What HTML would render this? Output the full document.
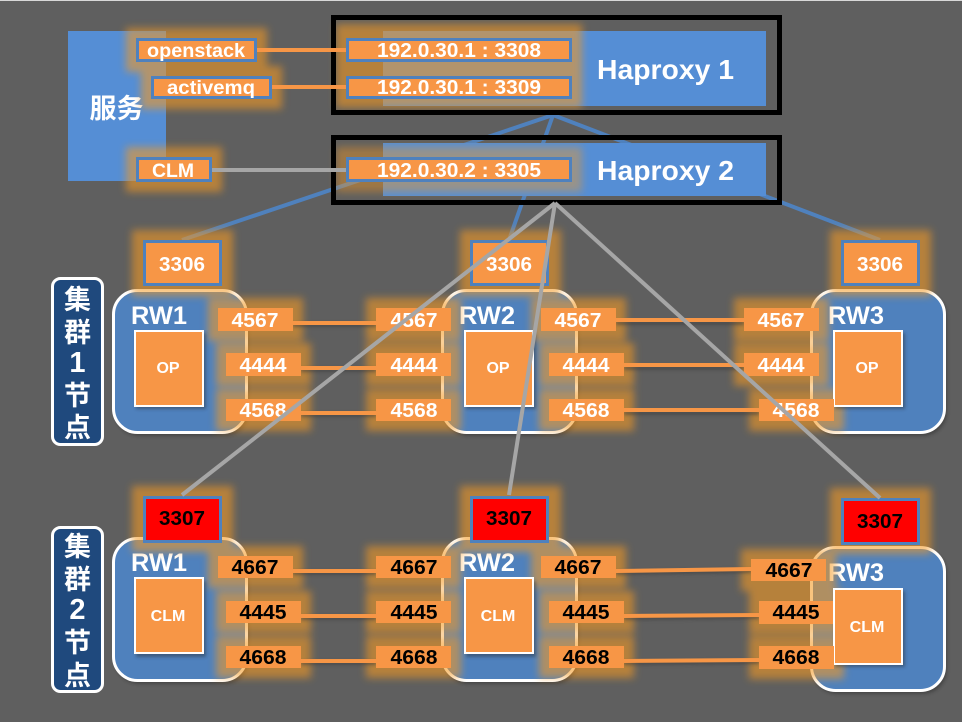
<!DOCTYPE html>
<html lang="zh">
<head>
<meta charset="utf-8">
<title>Haproxy</title>
<style>
html,body{margin:0;padding:0;background:#5f5f5f;width:962px;height:722px;overflow:hidden}
svg{display:block}
text{font-family:"Liberation Sans","Noto Sans CJK SC",sans-serif;font-weight:bold;text-anchor:middle;fill:#fff}
.k text,text.k{fill:#000}
.p{fill:#f79646}
.b{fill:#f79646;stroke:#4f81bd;stroke-width:3}
.r{fill:#f00;stroke:#4f81bd;stroke-width:3}
.rw{fill:#4f81bd;stroke:#fff;stroke-width:3}
.in{fill:#f79646;stroke:#fff;stroke-width:2}
.g rect{fill:#f59a20}
.ol{stroke:#f79646;stroke-width:4;fill:none}
.sh{stroke:#3a3a3a;stroke-width:4;fill:none;opacity:.55}
.bl{stroke:#4f81bd;stroke-width:4;fill:none}
.gr{stroke:#a6a6a6;stroke-width:4;fill:none}
.fr{fill:none;stroke:#000;stroke-width:5}
.tag{fill:#1f497d;stroke:#fff;stroke-width:3}
</style>
</head>
<body>
<svg width="962" height="722" viewBox="0 0 962 722" xmlns="http://www.w3.org/2000/svg">
<defs>
<filter id="blur" filterUnits="userSpaceOnUse" x="0" y="0" width="962" height="722"><feMorphology operator="dilate" radius="2"/><feGaussianBlur stdDeviation="4"/></filter>
<filter id="sb" x="-10%" y="-10%" width="120%" height="120%"><feGaussianBlur stdDeviation="1.5"/></filter>
</defs>
<rect width="962" height="722" fill="#5f5f5f"/>
<rect width="962" height="1" fill="#d8d8d8"/>

<!-- blue connectors -->
<g class="bl">
<line x1="553" y1="115" x2="182" y2="240"/>
<line x1="553" y1="115" x2="509" y2="240"/>
<line x1="553" y1="115" x2="880" y2="240"/>
</g>

<!-- service + haproxy panels -->
<rect x="68" y="31" width="98" height="150" fill="#558ed5"/>
<rect x="383" y="31" width="383" height="75" fill="#558ed5"/>
<rect x="383" y="143" width="383" height="53" fill="#558ed5"/>
<text x="116.500" y="118" font-size="27">服务</text>
<text x="665.500" y="79" font-size="28" textLength="137" lengthAdjust="spacingAndGlyphs">Haproxy 1</text>
<text x="665.500" y="180" font-size="28" textLength="137" lengthAdjust="spacingAndGlyphs">Haproxy 2</text>

<!-- top glows -->
<g class="g" filter="url(#blur)" opacity=".58">
<rect x="128" y="30" width="137" height="40"/>
<rect x="143" y="68" width="137" height="39"/>
<rect x="128" y="149" width="92" height="41"/>
<rect x="338" y="26" width="242" height="80"/>
</g>
<g class="g" filter="url(#blur)" opacity=".42">
<rect x="338" y="149" width="242" height="41"/>
</g>

<!-- frames -->
<rect class="fr" x="333.500" y="17.500" width="446" height="95"/>
<rect class="fr" x="333.500" y="137.500" width="446" height="65"/>

<!-- top links -->
<line class="ol" x1="257" y1="50" x2="346" y2="50"/>
<line class="ol" x1="272" y1="87" x2="346" y2="87"/>
<line class="gr" x1="212" y1="170" x2="346" y2="170"/>

<!-- top boxes -->
<rect class="b" x="137.500" y="39.500" width="118" height="21"/>
<rect class="b" x="152.500" y="77.500" width="118" height="20"/>
<rect class="b" x="137.500" y="158.500" width="73" height="22"/>
<rect class="b" x="347.500" y="39.500" width="223" height="21"/>
<rect class="b" x="347.500" y="77.500" width="223" height="20"/>
<rect class="b" x="347.500" y="158.500" width="223" height="22"/>
<text x="196" y="57" font-size="19" textLength="98" lengthAdjust="spacingAndGlyphs">openstack</text>
<text x="211" y="94" font-size="19" textLength="88" lengthAdjust="spacingAndGlyphs">activemq</text>
<text x="173" y="177" font-size="19" textLength="42" lengthAdjust="spacingAndGlyphs">CLM</text>
<text x="459" y="57" font-size="20" textLength="164" lengthAdjust="spacingAndGlyphs">192.0.30.1 : 3308</text>
<text x="459" y="94" font-size="20" textLength="164" lengthAdjust="spacingAndGlyphs">192.0.30.1 : 3309</text>
<text x="459" y="177" font-size="20" textLength="164" lengthAdjust="spacingAndGlyphs">192.0.30.2 : 3305</text>

<!-- side tags -->
<rect class="tag" x="52.500" y="278.500" width="50" height="166" rx="8"/>
<rect class="tag" x="52.500" y="527.500" width="50" height="164" rx="8"/>
<g font-size="27">
<text x="77.500" y="309">集</text>
<text x="77.500" y="342">群</text>
<text x="77.500" y="372" font-size="29">1</text>
<text x="77.500" y="405">节</text>
<text x="77.500" y="437">点</text>
<text x="77.500" y="556">集</text>
<text x="77.500" y="589">群</text>
<text x="77.500" y="619" font-size="29">2</text>
<text x="77.500" y="652">节</text>
<text x="77.500" y="685">点</text>
</g>

<!-- RW panels -->
<g filter="url(#sb)" opacity=".4" fill="#222">
<rect x="115" y="293" width="134" height="143" rx="24"/>
<rect x="444" y="293" width="135" height="143" rx="24"/>
<rect x="813" y="293" width="134" height="143" rx="24"/>
<rect x="115" y="541" width="134" height="143" rx="24"/>
<rect x="444" y="541" width="135" height="143" rx="24"/>
<rect x="813" y="550" width="134" height="144" rx="24"/>
</g>
<rect class="rw" x="113.500" y="290.500" width="133" height="142" rx="24"/>
<rect class="rw" x="442.500" y="290.500" width="134" height="142" rx="24"/>
<rect class="rw" x="811.500" y="290.500" width="133" height="142" rx="24"/>
<rect class="rw" x="113.500" y="538.500" width="133" height="142" rx="24"/>
<rect class="rw" x="442.500" y="538.500" width="134" height="142" rx="24"/>
<rect class="rw" x="811.500" y="547.500" width="133" height="143" rx="24"/>
<g font-size="25">
<text x="159" y="324" textLength="56" lengthAdjust="spacingAndGlyphs">RW1</text>
<text x="487" y="324" textLength="56" lengthAdjust="spacingAndGlyphs">RW2</text>
<text x="856" y="324" textLength="56" lengthAdjust="spacingAndGlyphs">RW3</text>
<text x="159" y="571" textLength="56" lengthAdjust="spacingAndGlyphs">RW1</text>
<text x="487" y="571" textLength="56" lengthAdjust="spacingAndGlyphs">RW2</text>
<text x="856" y="581" textLength="56" lengthAdjust="spacingAndGlyphs">RW3</text>
</g>

<!-- cluster glows -->
<g class="g" filter="url(#blur)" opacity=".58">
<rect x="134" y="232" width="97" height="62"/>
<rect x="462" y="232" width="97" height="62"/>
<rect x="832" y="232" width="97" height="62"/>
<rect x="134" y="488" width="97" height="62"/>
<rect x="462" y="488" width="97" height="62"/>
<rect x="832" y="490" width="97" height="62"/>
<rect x="210" y="300" width="91" height="39"/><rect x="368" y="300" width="91" height="39"/>
<rect x="218" y="345" width="91" height="39"/><rect x="368" y="345" width="91" height="39"/>
<rect x="218" y="391" width="91" height="38"/><rect x="368" y="391" width="91" height="38"/>
<rect x="533" y="300" width="91" height="39"/><rect x="736" y="300" width="91" height="39"/>
<rect x="541" y="345" width="91" height="39"/><rect x="736" y="345" width="91" height="39"/>
<rect x="541" y="391" width="91" height="38"/><rect x="751" y="391" width="91" height="38"/>
<rect x="210" y="548" width="91" height="38"/><rect x="368" y="548" width="91" height="38"/>
<rect x="218" y="593" width="91" height="38"/><rect x="368" y="593" width="91" height="38"/>
<rect x="218" y="638" width="91" height="38"/><rect x="368" y="638" width="91" height="38"/>
<rect x="533" y="548" width="91" height="38"/><rect x="743" y="551" width="91" height="38"/>
<rect x="541" y="593" width="91" height="38"/><rect x="751" y="593" width="91" height="39"/>
<rect x="541" y="638" width="91" height="38"/><rect x="751" y="638" width="91" height="39"/>
</g>

<!-- inner boxes -->
<g filter="url(#sb)" opacity=".4" fill="#222">
<rect x="136" y="333" width="70" height="76"/><rect x="466" y="333" width="70" height="76"/><rect x="835" y="333" width="70" height="76"/>
<rect x="136" y="581" width="70" height="76"/><rect x="466" y="581" width="70" height="76"/><rect x="835" y="591" width="70" height="76"/>
</g>
<rect class="in" x="135" y="331" width="68" height="75"/>
<rect class="in" x="465" y="331" width="68" height="75"/>
<rect class="in" x="834" y="331" width="68" height="75"/>
<rect class="in" x="135" y="578" width="68" height="75"/>
<rect class="in" x="465" y="578" width="68" height="75"/>
<rect class="in" x="834" y="589" width="68" height="75"/>
<g font-size="16">
<text x="168" y="373">OP</text><text x="498" y="373">OP</text><text x="867" y="373">OP</text>
<text x="168" y="621">CLM</text><text x="498" y="621">CLM</text><text x="867" y="632">CLM</text>
</g>

<!-- port link shadows -->
<g class="sh" filter="url(#sb)">
<path d="M293 325H376M301 370H376M301 415H376M616 323H744M624 368H744M624 413H759"/>
<path d="M293 573H376M301 618H376M301 663H376M616 573L751 571M624 618L759 617M624 663L759 662"/>
</g>
<!-- port links -->
<g class="ol">
<path d="M293 323H376M301 368H376M301 413H376M616 320H744M624 365H744M624 410H759"/>
<path d="M293 571H376M301 616H376M301 661H376M616 571L751 569M624 616L759 615M624 661L759 660"/>
</g>

<!-- port boxes row 1 -->
<g class="p">
<rect x="218" y="308" width="75" height="23"/><rect x="376" y="308" width="75" height="23"/>
<rect x="226" y="353" width="75" height="23"/><rect x="376" y="353" width="75" height="23"/>
<rect x="226" y="399" width="75" height="22"/><rect x="376" y="399" width="75" height="22"/>
<rect x="541" y="308" width="75" height="23"/><rect x="744" y="308" width="75" height="23"/>
<rect x="549" y="353" width="75" height="23"/><rect x="744" y="353" width="75" height="23"/>
<rect x="549" y="399" width="75" height="22"/><rect x="759" y="399" width="75" height="22"/>
<rect x="218" y="556" width="75" height="22"/><rect x="376" y="556" width="75" height="22"/>
<rect x="226" y="601" width="75" height="22"/><rect x="376" y="601" width="75" height="22"/>
<rect x="226" y="646" width="75" height="22"/><rect x="376" y="646" width="75" height="22"/>
<rect x="541" y="556" width="75" height="22"/><rect x="751" y="559" width="75" height="22"/>
<rect x="549" y="601" width="75" height="22"/><rect x="759" y="601" width="74" height="23"/>
<rect x="549" y="646" width="75" height="22"/><rect x="759" y="646" width="75" height="23"/>
</g>

<!-- port boxes with listeners -->
<rect class="b" x="144.500" y="241.500" width="76" height="43"/>
<rect class="b" x="471.500" y="241.500" width="76" height="43"/>
<rect class="b" x="842.500" y="241.500" width="76" height="43"/>
<rect class="r" x="144.500" y="497.500" width="76" height="44"/>
<rect class="r" x="471.500" y="497.500" width="76" height="44"/>
<rect class="r" x="842.500" y="499.500" width="76" height="44"/>

<g font-size="20">
<text x="182" y="271" textLength="46" lengthAdjust="spacingAndGlyphs">3306</text>
<text x="509" y="271" textLength="46" lengthAdjust="spacingAndGlyphs">3306</text>
<text x="880" y="271" textLength="46" lengthAdjust="spacingAndGlyphs">3306</text>
<text x="255" y="327" textLength="47" lengthAdjust="spacingAndGlyphs">4567</text>
<text x="414" y="327" textLength="47" lengthAdjust="spacingAndGlyphs">4567</text>
<text x="263" y="372" textLength="47" lengthAdjust="spacingAndGlyphs">4444</text>
<text x="414" y="372" textLength="47" lengthAdjust="spacingAndGlyphs">4444</text>
<text x="263" y="417" textLength="47" lengthAdjust="spacingAndGlyphs">4568</text>
<text x="414" y="417" textLength="47" lengthAdjust="spacingAndGlyphs">4568</text>
<text x="578" y="327" textLength="47" lengthAdjust="spacingAndGlyphs">4567</text>
<text x="781" y="327" textLength="47" lengthAdjust="spacingAndGlyphs">4567</text>
<text x="586" y="372" textLength="47" lengthAdjust="spacingAndGlyphs">4444</text>
<text x="781" y="372" textLength="47" lengthAdjust="spacingAndGlyphs">4444</text>
<text x="586" y="417" textLength="47" lengthAdjust="spacingAndGlyphs">4568</text>
<text x="796" y="417" textLength="47" lengthAdjust="spacingAndGlyphs">4568</text>
</g>
<g font-size="20" class="k">
<text x="182" y="525" textLength="46" lengthAdjust="spacingAndGlyphs">3307</text>
<text x="509" y="525" textLength="46" lengthAdjust="spacingAndGlyphs">3307</text>
<text x="880" y="528" textLength="46" lengthAdjust="spacingAndGlyphs">3307</text>
<text x="255" y="574" textLength="47" lengthAdjust="spacingAndGlyphs">4667</text>
<text x="414" y="574" textLength="47" lengthAdjust="spacingAndGlyphs">4667</text>
<text x="263" y="619" textLength="47" lengthAdjust="spacingAndGlyphs">4445</text>
<text x="414" y="619" textLength="47" lengthAdjust="spacingAndGlyphs">4445</text>
<text x="263" y="664" textLength="47" lengthAdjust="spacingAndGlyphs">4668</text>
<text x="414" y="664" textLength="47" lengthAdjust="spacingAndGlyphs">4668</text>
<text x="578" y="574" textLength="47" lengthAdjust="spacingAndGlyphs">4667</text>
<text x="789" y="577" textLength="47" lengthAdjust="spacingAndGlyphs">4667</text>
<text x="586" y="619" textLength="47" lengthAdjust="spacingAndGlyphs">4445</text>
<text x="796" y="619" textLength="47" lengthAdjust="spacingAndGlyphs">4445</text>
<text x="586" y="664" textLength="47" lengthAdjust="spacingAndGlyphs">4668</text>
<text x="796" y="664" textLength="47" lengthAdjust="spacingAndGlyphs">4668</text>
</g>

<!-- grey connectors -->
<g class="gr">
<line x1="555" y1="203" x2="182" y2="495"/>
<line x1="555" y1="203" x2="509" y2="495"/>
<line x1="555" y1="203" x2="880" y2="498"/>
</g>
</svg>
</body>
</html>
